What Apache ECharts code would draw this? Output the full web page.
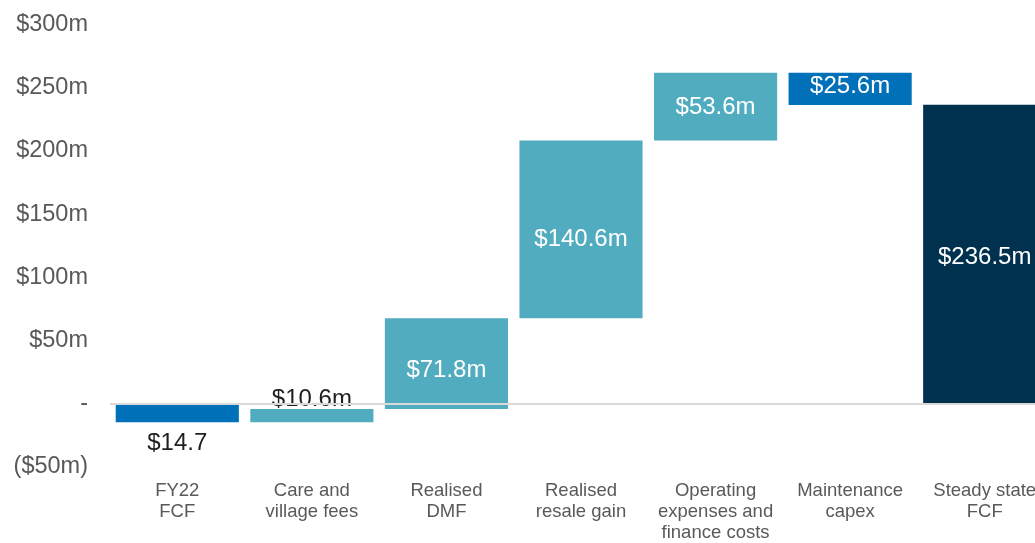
<!DOCTYPE html>
<html>
<head>
<meta charset="utf-8">
<title>FY22 FCF to steady state FCF</title>
<script src="https://cdn.jsdelivr.net/npm/echarts@6/dist/echarts.min.js"></script>
<style>
  html, body { margin: 0; padding: 0; background: #ffffff; overflow: hidden; }
  /* canvas is wider than the page so the last column runs off the right edge */
  #chart { width: 1052px; height: 543px; }
</style>
</head>
<body>
<div id="chart"></div>
<script>
// Bridge categories (x axis)
const categories = [
  'FY22\nFCF',
  'Care and\nvillage fees',
  'Realised\nDMF',
  'Realised\nresale gain',
  'Operating\nexpenses and\nfinance costs',
  'Maintenance\ncapex',
  'Steady state\nFCF'
];

// Movement of each step in $m (last entry is the closing total)
const changes = [-14.7, 10.6, 71.8, 140.6, 53.6, -25.6];
const closingTotal = 236.5;

// Unit suffix printed after each value label
const labelUnits = ['', 'm', 'm', 'm', 'm', 'm', 'm'];

// Y axis ticks ($m)
const yTicks = { min: -50, max: 300, step: 50 };

const COLOR_BLUE = '#0070B9';
const COLOR_TEAL = '#52ACBF';
const COLOR_NAVY = '#00314F';
const barColors = [COLOR_BLUE, COLOR_TEAL, COLOR_TEAL, COLOR_TEAL, COLOR_TEAL, COLOR_BLUE, COLOR_NAVY];

// Build floating bars: invisible base + visible height
const bases = [];
const heights = [];
const labelValues = [];
let running = 0;
changes.forEach(c => {
  const next = running + c;
  bases.push(Math.min(running, next));
  heights.push(Math.abs(c));
  labelValues.push(Math.abs(c));
  running = next;
});
bases.push(0);
heights.push(closingTotal);
labelValues.push(closingTotal);

// Label placement per bar
const labelPlacement = [
  { position: 'bottom', distance: 9, color: '#1f1f1f' },
  { position: 'top', distance: -2, color: '#1f1f1f' },
  { position: 'inside', offset: [0, 7], color: '#ffffff' },
  { position: 'inside', offset: [0, 10], color: '#ffffff' },
  { position: 'inside', offset: [0, 1], color: '#ffffff' },
  { position: 'inside', offset: [0, -2], color: '#ffffff' },
  { position: 'inside', offset: [0, 3], color: '#ffffff' }
];

const FONT = '"Liberation Sans", Arial, sans-serif';

const chart = echarts.init(document.getElementById('chart'), null, { renderer: 'canvas' });

chart.setOption({
  animation: false,
  backgroundColor: '#ffffff',
  grid: { left: 110, right: 0, top: 24.5, bottom: 72, containLabel: false },
  xAxis: {
    type: 'category',
    data: categories,
    axisLine: { show: false },
    axisTick: { show: false },
    axisLabel: {
      interval: 0,
      margin: 13,
      color: '#595959',
      fontFamily: FONT,
      fontSize: 18.5,
      lineHeight: 21
    }
  },
  yAxis: {
    type: 'value',
    min: yTicks.min,
    max: yTicks.max,
    interval: yTicks.step,
    axisLine: { show: false },
    axisTick: { show: false },
    splitLine: { show: false },
    axisLabel: {
      margin: 22,
      color: '#595959',
      fontFamily: FONT,
      fontSize: 23.5,
      formatter: v => v === 0 ? '-' : (v < 0 ? '($' + (-v) + 'm)' : '$' + v + 'm')
    }
  },
  series: [
    {
      name: 'base',
      type: 'bar',
      stack: 'bridge',
      stackStrategy: 'all',
      silent: true,
      barWidth: '91.5%',
      itemStyle: { color: 'transparent' },
      data: bases
    },
    {
      name: 'movement',
      type: 'bar',
      stack: 'bridge',
      stackStrategy: 'all',
      barWidth: '91.5%',
      data: heights.map((h, i) => ({
        value: h,
        itemStyle: { color: barColors[i] },
        label: Object.assign({
          show: true,
          fontFamily: FONT,
          fontSize: 24,
          formatter: () => '$' + labelValues[i].toFixed(1) + labelUnits[i]
        }, labelPlacement[i])
      }))
    },
    {
      name: 'zero',
      type: 'line',
      data: [],
      z: 10,
      silent: true,
      markLine: {
        silent: true,
        symbol: 'none',
        label: { show: false },
        lineStyle: { color: '#D9D9D9', width: 2, type: 'solid' },
        data: [{ yAxis: 0 }]
      }
    }
  ]
});
</script>
</body>
</html>
